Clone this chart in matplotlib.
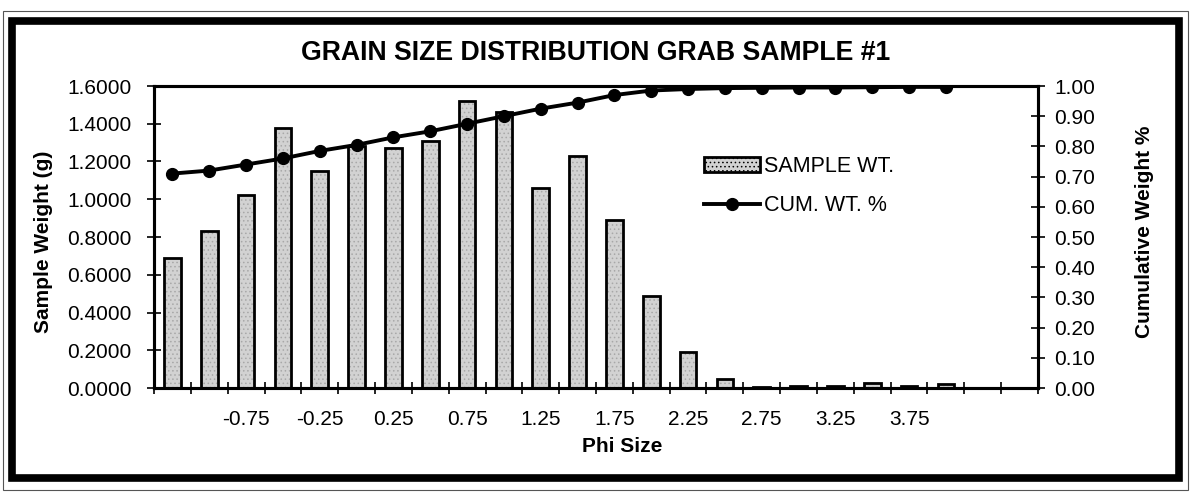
import matplotlib
matplotlib.use("Agg")
import matplotlib.pyplot as plt
from matplotlib.patches import Rectangle, Patch
from matplotlib.lines import Line2D
from matplotlib.ticker import FormatStrFormatter

plt.rcParams['font.family'] = ['Liberation Sans', 'DejaVu Sans']
plt.rcParams['hatch.linewidth'] = 0.6

# phi size categories (0.25 steps)
phi = [-1.25, -1.0, -0.75, -0.5, -0.25, 0.0, 0.25, 0.5, 0.75, 1.0, 1.25, 1.5,
       1.75, 2.0, 2.25, 2.5, 2.75, 3.0, 3.25, 3.5, 3.75, 4.0, 4.25, 4.5]
shown_labels = ["-0.75", "-0.25", "0.25", "0.75", "1.25", "1.75",
                "2.25", "2.75", "3.25", "3.75"]

# sample weight (g) per class
sample_wt = [0.69, 0.83, 1.02, 1.38, 1.15, 1.28, 1.27, 1.31, 1.52, 1.46, 1.06,
             1.23, 0.89, 0.49, 0.19, 0.05, 0.006, 0.008, 0.012, 0.025, 0.012, 0.02]
# cumulative weight fraction
cum_wt = [0.71, 0.72, 0.74, 0.76, 0.785, 0.805, 0.83, 0.85, 0.875, 0.90, 0.925,
          0.945, 0.97, 0.985, 0.99, 0.993, 0.994, 0.995, 0.995, 0.996, 0.997, 0.997]

fig = plt.figure(figsize=(11.91, 4.93), dpi=100)
ax = fig.add_axes([154 / 1191, 1 - 388 / 493, (1038 - 154) / 1191, (388 - 86) / 493])
ax2 = ax.twinx()

xs = list(range(len(sample_wt)))
# stippled grey fill, then black outline
ax.bar(xs, sample_wt, width=0.45, color="#d2d2d2", hatch="....", edgecolor="#a8a8a8", linewidth=0)
ax.bar(xs, sample_wt, width=0.45, fill=False, edgecolor="black", linewidth=2)
ax2.plot(xs, cum_wt, color="black", lw=2.8, marker="o", markersize=8.5)

ax.set_xlim(-0.5, len(phi) - 0.5)
ax.set_ylim(0, 1.6)
ax2.set_ylim(0, 1.0)

ax.set_yticks([i * 0.2 for i in range(9)])
ax.yaxis.set_major_formatter(FormatStrFormatter("%.4f"))
ax2.set_yticks([i * 0.1 for i in range(11)])
ax2.yaxis.set_major_formatter(FormatStrFormatter("%.2f"))

label_pos = [phi.index(float(s)) for s in shown_labels]
ax.set_xticks(label_pos)
ax.set_xticklabels(shown_labels)
ax.set_xticks([i - 0.5 for i in range(len(phi) + 1)], minor=True)
ax.tick_params(axis="x", which="major", length=0, pad=16, labelsize=15)
ax.tick_params(axis="x", which="minor", length=8, width=1.2, direction="inout")
ax.tick_params(axis="y", length=10, width=1.2, direction="inout", labelsize=15, pad=11)
ax2.tick_params(axis="y", length=10, width=1.2, direction="inout", labelsize=15, pad=6.5)

for a in (ax, ax2):
    for s in a.spines.values():
        s.set_linewidth(2.2)

ax.set_ylabel("Sample Weight (g)", fontsize=15, fontweight="bold")
ax.yaxis.set_label_coords(-0.114, 0.485)
ax2.set_ylabel("Cumulative Weight %", fontsize=15, fontweight="bold")
ax2.yaxis.set_label_coords(1.11, 0.518)
ax.set_xlabel("Phi Size", fontsize=15, fontweight="bold")
ax.xaxis.set_label_coords(0.53, -0.162)

fig.text(0.5, 1 - 53 / 493, "GRAIN SIZE DISTRIBUTION GRAB SAMPLE #1",
         ha="center", va="center", fontsize=19.2, fontweight="bold")

handles = [Patch(facecolor="#d2d2d2", hatch="....", edgecolor="black", linewidth=2),
           Line2D([], [], color="black", lw=2.8, marker="o", markersize=8.5)]
ax2.legend(handles, ["SAMPLE WT.", "CUM. WT. %"], loc="upper left",
           bbox_to_anchor=(704 / 1191, 1 - 156 / 493), bbox_transform=fig.transFigure,
           frameon=False, fontsize=15.5, handlelength=2.6, handleheight=0.75,
           handletextpad=0.2, labelspacing=0.85, borderpad=0, borderaxespad=0)

# outer chart frame
fig.add_artist(Rectangle((12 / 1191, 1 - 478 / 493), (1179 - 12) / 1191, (478 - 21) / 493,
                         transform=fig.transFigure, fill=False, lw=5.5, edgecolor="black"))
fig.add_artist(Rectangle((3 / 1191, 1 - 490 / 493), (1188 - 3) / 1191, (490 - 11) / 493,
                         transform=fig.transFigure, fill=False, lw=0.8, edgecolor="#555555"))

fig.savefig("out.png", dpi=100)
